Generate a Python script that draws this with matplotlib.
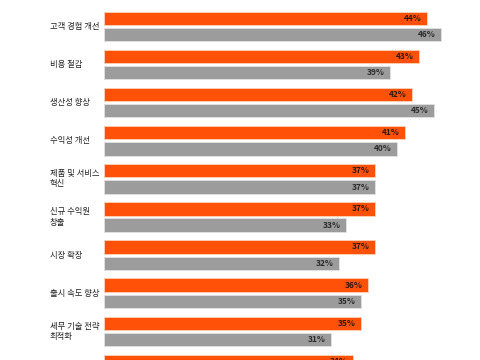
import numpy as np
import matplotlib
matplotlib.use("Agg")
import matplotlib.pyplot as plt
from matplotlib.transforms import blended_transform_factory

plt.rcParams['font.family'] = ['Noto Sans CJK KR', 'DejaVu Sans']

categories = ["고객 경험 개선", "비용 절감", "생산성 향상", "수익성 개선",
              "제품 및 서비스\n혁신", "신규 수익원\n창출", "시장 확장",
              "출시 속도 향상", "세무 기술 전략\n최적화", ""]
orange_vals = [44, 43, 42, 41, 37, 37, 37, 36, 35, 34]
grey_vals = [46, 39, 45, 40, 37, 33, 32, 35, 31, np.nan]

ORANGE = "#FF5208"
GREY = "#9C9C9C"

fig = plt.figure(figsize=(4.8, 3.6), dpi=100)
ax = fig.add_axes([104 / 480, 0, 376 / 480, 1])

y = np.arange(len(categories))
off = 0.213
h = 0.35
ax.barh(y - off, orange_vals, height=h, color=ORANGE, edgecolor="#FFD2B8", linewidth=0.6)
ax.barh(y + off, grey_vals, height=h, color=GREY, edgecolor="#E2E2E2", linewidth=0.6)

for i in range(len(categories)):
    ov, gv = orange_vals[i], grey_vals[i]
    ax.text(ov - 0.7, i - off, f"{ov}%", ha="right", va="center",
            fontsize=6, fontweight="bold", color="#2a1a10")
    if not np.isnan(gv):
        ax.text(gv - 0.7, i + off, f"{gv:.0f}%", ha="right", va="center",
                fontsize=6, fontweight="bold", color="#2b2b2b")

trans = blended_transform_factory(fig.transFigure, ax.transData)
for i, c in enumerate(categories):
    ax.text(50 / 480, i, c, transform=trans, ha="left", va="center",
            fontsize=6, color="#222222", linespacing=1.15)

ax.set_xlim(0, 376 / 7.33)
ax.set_ylim(8.753, -0.696)
ax.axis("off")

fig.savefig("out.png", dpi=100)
